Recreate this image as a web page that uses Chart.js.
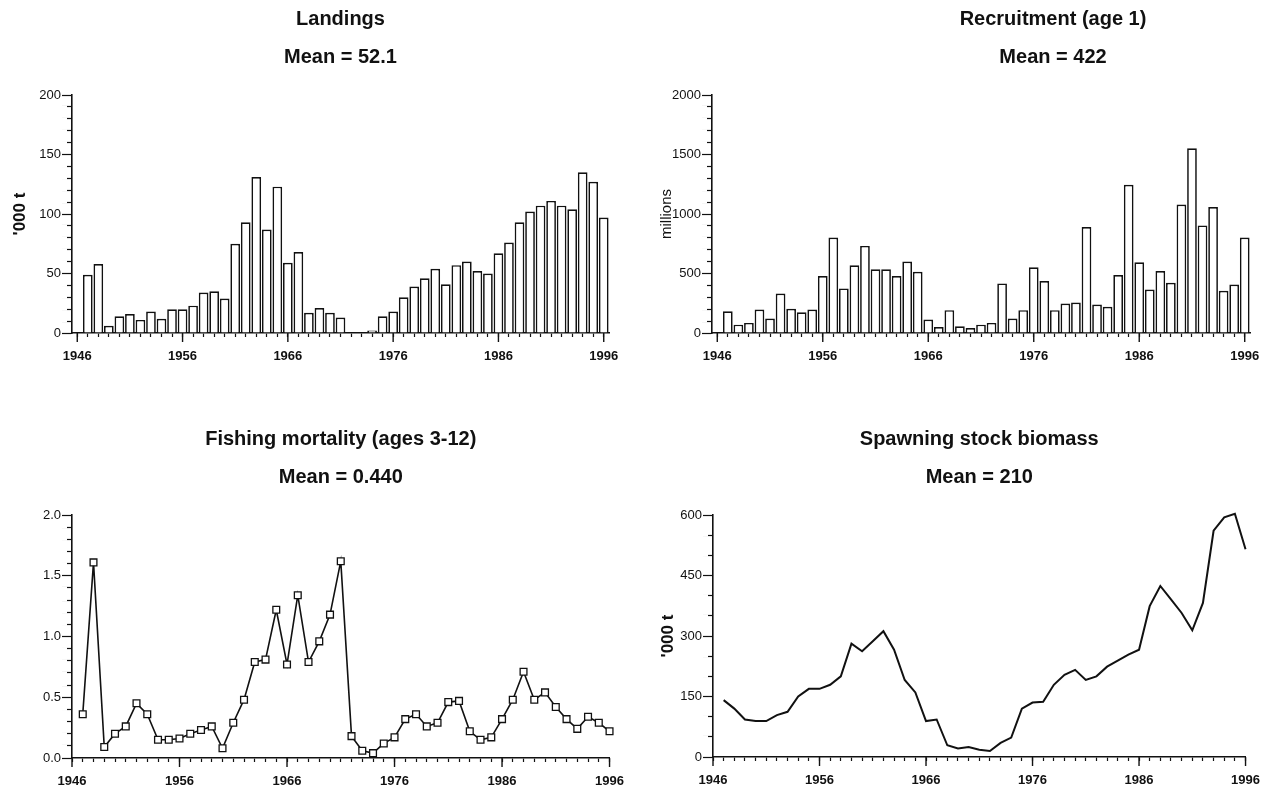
<!DOCTYPE html>
<html>
<head>
<meta charset="utf-8">
<script src="https://cdn.jsdelivr.net/npm/chart.js@4.4.1/dist/chart.umd.min.js"></script>
<style>
  html, body { margin: 0; padding: 0; background: #fff; overflow: hidden; }
  body { width: 1272px; height: 790px; position: relative; }
  canvas { position: absolute; }
</style>
</head>
<body>
<canvas id="c1" width="636" height="373" style="left:0;top:0"></canvas>
<canvas id="c2" width="834" height="373" style="left:636px;top:0"></canvas>
<canvas id="c3" width="636" height="370" style="left:0;top:420px"></canvas>
<canvas id="c4" width="636" height="370" style="left:636px;top:420px"></canvas>
<script>
// Anos (eixo x)
const anos = [1946, 1947, 1948, 1949, 1950, 1951, 1952, 1953, 1954, 1955,
              1956, 1957, 1958, 1959, 1960, 1961, 1962, 1963, 1964, 1965,
              1966, 1967, 1968, 1969, 1970, 1971, 1972, 1973, 1974, 1975,
              1976, 1977, 1978, 1979, 1980, 1981, 1982, 1983, 1984, 1985,
              1986, 1987, 1988, 1989, 1990, 1991, 1992, 1993, 1994, 1995, 1996];
const anosMarcados = [1946, 1956, 1966, 1976, 1986, 1996];

// Landings ('000 t), 1946..1996
const desembarques = [null, 49, 58, 6, 14, 16, 11, 18, 12, 20,
                      20, 23, 34, 35, 29, 75, 93, 131, 87, 123,
                      59, 68, 17, 21, 17, 13, null, null, 2, 14,
                      18, 30, 39, 46, 54, 41, 57, 60, 52, 50,
                      67, 76, 93, 102, 107, 111, 107, 104, 135, 127, 97];

// Recruitment age 1 (millions), 1946..1996
const recrutamento = [null, 183, 70, 85, 197, 121, 332, 203, 175, 197,
                      479, 803, 375, 569, 732, 535, 535, 479, 600, 515,
                      113, 51, 192, 56, 42, 70, 85, 417, 121, 192,
                      552, 437, 192, 248, 256, 890, 239, 220, 487, 1245,
                      594, 366, 521, 422, 1079, 1552, 904, 1059, 355, 408, 803];

// Fishing mortality ages 3-12, 1947..1996
const mortalidade = [0.36, 1.61, 0.09, 0.20, 0.26, 0.45, 0.36, 0.15, 0.15,
                     0.16, 0.20, 0.23, 0.26, 0.08, 0.29, 0.48, 0.79, 0.81, 1.22,
                     0.77, 1.34, 0.79, 0.96, 1.18, 1.62, 0.18, 0.06, 0.04, 0.12,
                     0.17, 0.32, 0.36, 0.26, 0.29, 0.46, 0.47, 0.22, 0.15, 0.17,
                     0.32, 0.48, 0.71, 0.48, 0.54, 0.42, 0.32, 0.24, 0.34, 0.29, 0.22];

// Spawning stock biomass ('000 t), 1947..1996
const biomassa = [141, 120, 93, 89, 89, 104, 112, 150, 169,
                  169, 179, 200, 281, 262, 287, 312, 266, 191, 160,
                  89, 93, 29, 21, 25, 18, 15, 35, 48, 120,
                  135, 137, 179, 204, 216, 191, 200, 224, 239, 254,
                  266, 374, 424, 391, 357, 314, 382, 561, 594, 603, 515];

const fonte = "'Liberation Sans', Arial, Helvetica, sans-serif";
const preto = '#111';

// Ticks maiores (mais compridos) desenhados por cima dos ticks normais
const ticksMaiores = {
    id: 'ticksMaiores',
    afterDraw(chart, args, opts) {
        const ctx = chart.ctx;
        const sx = chart.scales.x;
        ctx.save();
        ctx.strokeStyle = preto;
        ctx.lineWidth = 1.4;
        opts.x.forEach(v => {
            const px = sx.getPixelForValue(v);
            ctx.beginPath();
            ctx.moveTo(px, sx.top);
            ctx.lineTo(px, sx.top + 9);
            ctx.stroke();
        });
        ctx.restore();
    }
};

// Ticks menores do eixo y: cobre a parte de fora com um traço branco
const ticksMenoresY = {
    id: 'ticksMenoresY',
    afterDraw(chart, args, opts) {
        const ctx = chart.ctx;
        const sy = chart.scales.y;
        ctx.save();
        ctx.strokeStyle = '#fff';
        ctx.lineWidth = 3;
        sy.ticks.forEach(t => {
            if (Math.abs(Math.round(t.value / opts.rotulo) * opts.rotulo - t.value) < 1e-6) return;
            const py = sy.getPixelForValue(t.value);
            ctx.beginPath();
            ctx.moveTo(sy.right - 5, py);
            ctx.lineTo(sy.right - 11, py);
            ctx.stroke();
        });
        ctx.restore();
    }
};

function titulo(linhas, cheio) {
    return {
        display: true,
        fullSize: cheio,
        text: linhas,
        color: preto,
        font: { family: fonte, size: 20, weight: 'bold', lineHeight: 1.9 },
        padding: { top: 0, bottom: 19 }
    };
}

function eixoY(max, passo, rotulo, fmt, largura, tituloEixo, tituloPad, tituloFonte) {
    return {
        min: 0, max: max,
        afterFit: s => { s.width = largura; },
        border: { display: true, color: preto, width: 1.6 },
        grid: {
            display: true, drawOnChartArea: false, drawTicks: true, tickColor: preto,
            tickLength: 10,
            tickWidth: 1.2
        },
        ticks: {
            stepSize: passo, autoSkip: false, maxTicksLimit: 100, padding: 1,
            color: preto, font: { family: fonte, size: 13 },
            callback: v => (Math.abs(Math.round(v / rotulo) * rotulo - v) < 1e-6 ? fmt(v) : '')
        },
        title: tituloEixo ? {
            display: true, text: tituloEixo, color: preto,
            font: tituloFonte,
            padding: { top: tituloPad, bottom: 0 }
        } : { display: false }
    };
}

// Eixo vazio à direita: só reserva espaço (para o título ficar deslocado)
function eixoVazio(largura) {
    return {
        type: 'linear', position: 'right', display: true,
        afterFit: s => { s.width = largura; },
        border: { display: false },
        grid: { display: false },
        ticks: { display: false }
    };
}

const ticksX = {
    autoSkip: false, maxRotation: 0, padding: 12, color: preto,
    font: { family: fonte, size: 13, weight: 'bold' }
};
const gridX = { display: true, drawOnChartArea: false, drawTicks: true, tickLength: 4, tickColor: preto, tickWidth: 1.2, offset: false };
const bordaX = { display: true, color: preto, width: 1.6 };
const fonteEixoNegrito = { family: fonte, size: 17, weight: 'bold' };
const fonteEixoNormal = { family: fonte, size: 15 };

function graficoBarras(id, valores, linhas, yMax, yPasso, yRotulo, largura, direita, tituloEixo, tituloPad, tituloFonte) {
    const indicesMarcados = anos.map((a, i) => i).filter(i => anosMarcados.includes(anos[i]));
    const escalas = {
        x: {
            type: 'category', offset: true,
            afterFit: s => { s.height = 40; },
            border: bordaX, grid: gridX,
            ticks: Object.assign({}, ticksX, {
                callback: (v, i) => (anosMarcados.includes(anos[i]) ? String(anos[i]) : '')
            })
        },
        y: eixoY(yMax, yPasso, yRotulo, v => String(v), largura, tituloEixo, tituloPad, tituloFonte)
    };
    if (direita > 100) escalas.y2 = eixoVazio(direita);
    new Chart(document.getElementById(id), {
        type: 'bar',
        data: {
            labels: anos,
            datasets: [{
                data: valores,
                backgroundColor: '#fff',
                borderColor: preto,
                borderWidth: 1.7,
                categoryPercentage: 1,
                barPercentage: 0.92
            }]
        },
        options: {
            responsive: false,
            animation: false,
            layout: { padding: { left: 0, right: direita > 100 ? 0 : direita, top: 0, bottom: 0 } },
            plugins: {
                legend: { display: false },
                tooltip: { enabled: false },
                title: titulo(linhas, direita > 100),
                ticksMaiores: { x: indicesMarcados },
                ticksMenoresY: { rotulo: yRotulo }
            },
            scales: escalas
        },
        plugins: [ticksMaiores, ticksMenoresY]
    });
}

function graficoLinha(id, valores, linhas, yMax, yPasso, yRotulo, fmt, largura, direita, altX, tituloEixo, tituloPad, comPontos) {
    const pontos = valores.map((v, i) => ({ x: anos[i + 1], y: v }));
    const conjuntos = [{
        data: pontos,
        clip: false,
        borderColor: preto,
        borderWidth: comPontos ? 1.6 : 2,
        tension: 0,
        pointStyle: 'rect',
        pointRadius: comPontos ? 4.8 : 0,
        pointBackgroundColor: '#fff',
        pointBorderColor: preto,
        pointBorderWidth: 1.3
    }];
    if (comPontos) {
        // ponto central dentro de cada quadrado
        conjuntos.push({
            data: pontos, clip: false, showLine: false,
            pointStyle: 'circle', pointRadius: 0.9,
            pointBackgroundColor: preto, pointBorderWidth: 0
        });
    }
    new Chart(document.getElementById(id), {
        type: 'line',
        data: { datasets: conjuntos },
        options: {
            responsive: false,
            animation: false,
            layout: { padding: { left: 0, right: direita, top: 0, bottom: 0 } },
            plugins: {
                legend: { display: false },
                tooltip: { enabled: false },
                title: titulo(linhas, false),
                ticksMaiores: { x: anosMarcados },
                ticksMenoresY: { rotulo: yRotulo }
            },
            scales: {
                x: {
                    type: 'linear', min: 1946, max: 1996,
                    afterFit: s => { s.height = altX; },
                    border: bordaX, grid: gridX,
                    ticks: Object.assign({}, ticksX, {
                        stepSize: 1, maxTicksLimit: 100,
                        callback: v => (anosMarcados.includes(v) ? String(v) : '')
                    })
                },
                y: eixoY(yMax, yPasso, yRotulo, fmt, largura, tituloEixo, tituloPad, fonteEixoNegrito)
            }
        },
        plugins: [ticksMaiores, ticksMenoresY]
    });
}

graficoBarras('c1', desembarques, ['Landings', 'Mean = 52.1'], 200, 10, 50, 72, 27,
              "'000 t", 10, fonteEixoNegrito);
graficoBarras('c2', recrutamento, ['Recruitment (age 1)', 'Mean = 422'], 2000, 100, 500, 76, 220,
              'millions', 22, fonteEixoNormal);
graficoLinha('c3', mortalidade, ['Fishing mortality (ages 3-12)', 'Mean = 0.440'], 2.0, 0.1, 0.5,
             v => v.toFixed(1), 72, 23, 32, null, 0, true);
graficoLinha('c4', biomassa, ['Spawning stock biomass', 'Mean = 210'], 600, 50, 150,
             v => String(v), 77, 14, 33, "'000 t", 22, false);
</script>
</body>
</html>
